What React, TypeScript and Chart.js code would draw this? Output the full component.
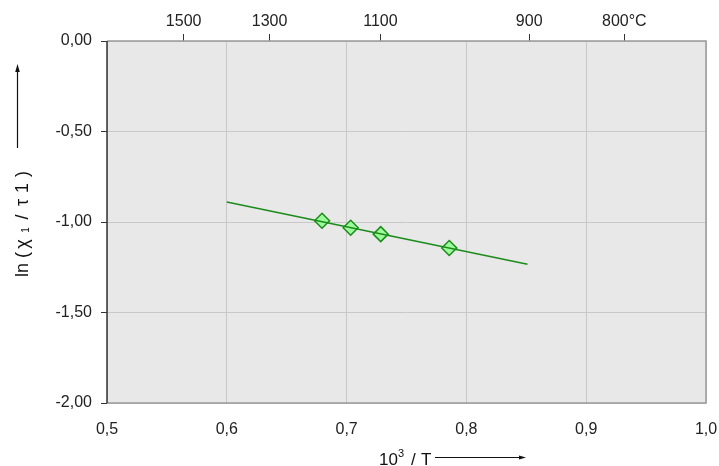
import React, { useEffect, useRef } from "react";
import { Chart, registerables } from "chart.js";

Chart.register(...registerables);

// Measured points: x = 10^3 / T, y = ln(chi1 / tau1)
const pointX = [0.6795, 0.7034, 0.7285, 0.7857];
const pointY = [-0.993, -1.032, -1.067, -1.144];

// Fit line end points
const lineX = [0.6, 0.851];
const lineY = [-0.889, -1.234];

// Top axis temperatures in °C
const tempC = [1500, 1300, 1100, 900, 800];
const tempLabels = ["1500", "1300", "1100", "900", "800°C"];

const FONT = "'Liberation Sans', Arial, sans-serif";

const fmtX = (v: number) => (Math.round(v * 10) / 10).toFixed(1).replace(".", ",");
const fmtY = (v: number) => (Math.round(v * 100) / 100).toFixed(2).replace(".", ",");

// y-title pieces: text, font size, center along the vertical, baseline x
const yTitle: [string, number, number, number][] = [
  ["ln", 18, 270, 28],
  ["(", 18, 255, 28],
  ["χ", 18, 244, 28],
  ["1", 10, 230, 29],
  ["/", 18, 217, 28],
  ["τ", 18, 202.5, 28],
  ["1", 18, 188, 28],
  [")", 18, 174, 28],
];

const framePlugin = {
  id: "frame",
  beforeDraw(chart: any) {
    const { ctx, chartArea: a } = chart;
    ctx.save();
    ctx.fillStyle = "#e8e8e8";
    ctx.fillRect(a.left, a.top, a.right - a.left, a.bottom - a.top);
    ctx.restore();
  },
  beforeDatasetsDraw(chart: any) {
    const { ctx, chartArea: a } = chart;
    ctx.save();
    ctx.strokeStyle = "#9a9a9a";
    ctx.lineWidth = 1.5;
    ctx.beginPath();
    ctx.moveTo(a.left, a.top);
    ctx.lineTo(a.right, a.top);
    ctx.lineTo(a.right, a.bottom);
    ctx.lineTo(a.left, a.bottom);
    ctx.stroke();
    ctx.strokeStyle = "#333";
    ctx.beginPath();
    ctx.moveTo(a.left, a.top);
    ctx.lineTo(a.left, a.bottom);
    ctx.stroke();
    ctx.restore();
  },
  afterDraw(chart: any) {
    const { ctx } = chart;
    ctx.save();
    ctx.fillStyle = "#111";
    ctx.strokeStyle = "#111";
    ctx.textAlign = "center";
    ctx.textBaseline = "alphabetic";
    for (const [t, s, cy, bx] of yTitle) {
      ctx.setTransform(1, 0, 0, 1, bx, cy);
      ctx.rotate(-Math.PI / 2);
      ctx.font = `${s}px ${FONT}`;
      ctx.fillText(t, 0, 0);
    }
    ctx.setTransform(1, 0, 0, 1, 0, 0);
    // Y arrow
    ctx.lineWidth = 1.2;
    ctx.beginPath();
    ctx.moveTo(17.5, 148);
    ctx.lineTo(17.5, 70);
    ctx.stroke();
    ctx.beginPath();
    ctx.moveTo(17.5, 64);
    ctx.lineTo(15.2, 72);
    ctx.lineTo(19.8, 72);
    ctx.closePath();
    ctx.fill();
    // X title
    ctx.textAlign = "left";
    ctx.font = `17px ${FONT}`;
    ctx.fillText("10", 379, 465);
    const w10 = ctx.measureText("10").width;
    ctx.font = `11px ${FONT}`;
    ctx.fillText("3", 379 + w10, 457);
    ctx.font = `17px ${FONT}`;
    ctx.fillText("/", 411, 465);
    ctx.fillText("T", 421, 465);
    // X arrow
    ctx.beginPath();
    ctx.moveTo(435, 457.5);
    ctx.lineTo(520, 457.5);
    ctx.stroke();
    ctx.beginPath();
    ctx.moveTo(526, 457.5);
    ctx.lineTo(519, 455.5);
    ctx.lineTo(519, 459.5);
    ctx.closePath();
    ctx.fill();
    ctx.restore();
  },
};

export default function App() {
  const ref = useRef<HTMLCanvasElement | null>(null);
  useEffect(() => {
    if (!ref.current) return;
    const chart = new Chart(ref.current, {
      type: "scatter",
      data: {
        datasets: [
          {
            data: lineX.map((x, i) => ({ x, y: lineY[i] })),
            showLine: true,
            borderColor: "#1a8c1a",
            borderWidth: 1.5,
            pointRadius: 0,
            xAxisID: "x",
            yAxisID: "y",
          },
          {
            data: pointX.map((x, i) => ({ x, y: pointY[i] })),
            showLine: false,
            pointStyle: "rectRot",
            pointRadius: 7.5,
            backgroundColor: "#9cfc9c",
            borderColor: "#1a8c1a",
            borderWidth: 1.5,
            xAxisID: "x",
            yAxisID: "y",
          },
        ],
      },
      plugins: [framePlugin],
      options: {
        animation: false,
        responsive: false,
        devicePixelRatio: 1,
        layout: { padding: { left: 0, right: 13, top: 0, bottom: 0 } },
        plugins: { legend: { display: false }, tooltip: { enabled: false } },
        scales: {
          x: {
            type: "linear",
            position: "bottom",
            min: 0.5,
            max: 1.0,
            ticks: {
              stepSize: 0.1,
              callback: (v: any) => fmtX(Number(v)),
              font: { size: 16, family: FONT },
              color: "#222",
              padding: 17,
            },
            grid: { color: "#c8c8c8", drawTicks: false, lineWidth: 1 },
            border: { display: false },
            afterFit: (s: any) => {
              s.height = 63;
              s.paddingLeft = 0;
              s.paddingRight = 0;
            },
          },
          x2: {
            type: "linear",
            position: "top",
            min: 0.5,
            max: 1.0,
            afterBuildTicks: (s: any) => {
              s.ticks = tempC.map((t) => ({ value: 1000 / (t + 273.15) }));
            },
            ticks: {
              autoSkip: false,
              maxRotation: 0,
              callback: (_v: any, i: number) => tempLabels[i],
              font: { size: 16, family: FONT },
              color: "#222",
              padding: 3,
            },
            grid: { drawOnChartArea: false, drawTicks: true, tickLength: 7, tickColor: "#333" },
            border: { display: false },
            afterFit: (s: any) => {
              s.height = 41;
              s.paddingLeft = 0;
              s.paddingRight = 0;
            },
          },
          y: {
            type: "linear",
            min: -2,
            max: 0,
            ticks: {
              stepSize: 0.5,
              callback: (v: any) => fmtY(Number(v)),
              font: { size: 16, family: FONT },
              color: "#222",
              padding: 9,
            },
            grid: { color: "#c8c8c8", tickLength: 6, tickColor: "#333", lineWidth: 1 },
            border: { display: false },
            afterFit: (s: any) => {
              s.width = 107;
            },
          },
        },
      },
    } as any);
    return () => chart.destroy();
  }, []);
  return (
    <div style={{ position: "absolute", left: 0, top: 0, width: 719, height: 466, background: "#fff" }}>
      <canvas ref={ref} width={719} height={466} style={{ width: 719, height: 466 }} />
    </div>
  );
}
